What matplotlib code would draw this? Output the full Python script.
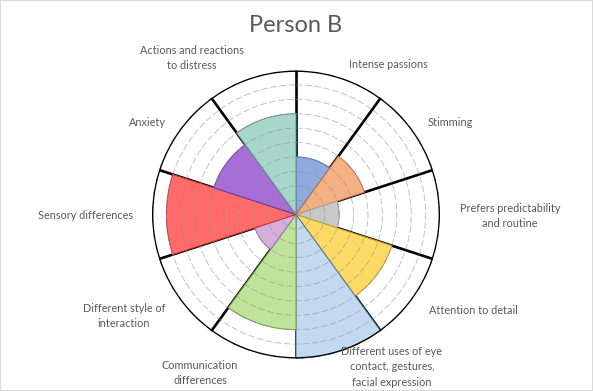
import numpy as np
import matplotlib
matplotlib.use("Agg")
import matplotlib.pyplot as plt

plt.rcParams['font.family'] = ['Lato', 'DejaVu Sans']

title = "Person B"
categories = ["Intense passions",
              "Stimming",
              "Prefers predictability\nand routine",
              "Attention to detail",
              "Different uses of eye\ncontact, gestures,\nfacial expression",
              "Communication\ndifferences",
              "Different style of\ninteraction",
              "Sensory differences",
              "Anxiety",
              "Actions and reactions\nto distress"]
scores = [4, 5, 3, 7, 10, 8, 3, 9, 6, 7]
max_score = 10

fills = ["#8FAADC", "#F4B183", "#C9C9C9", "#FFD966", "#C3D9EF",
         "#BEE39A", "#D6AEDC", "#FF6B6B", "#A66ED6", "#A9D6CA"]
edges = ["#4A6FB0", "#C0703A", "#A0A0A0", "#C09A20", "#4A6F95",
         "#6E9E40", "#A070A8", "#C03030", "#6A3AA0", "#5A9A8A"]

# label anchors in pixel coords (x from left, y from top)
label_px = [(388, 65), (450, 122), (510, 216), (473, 310), (392, 367),
            (200, 373), (124, 316), (86, 216), (147, 122), (192, 58)]

W, H = 593, 391
fig = plt.figure(figsize=(W / 100, H / 100), dpi=100)
ax = fig.add_axes([(296 - 145) / W, (H - 214.5 - 144) / H, 290 / W, 288 / H],
                  projection='polar')
ax.set_theta_zero_location('N')
ax.set_theta_direction(-1)

n = len(scores)
width = 2 * np.pi / n
theta = np.arange(n) * width + width / 2
ax.bar(theta, scores, width=width, color=fills, edgecolor=edges,
       linewidth=0.7, zorder=3)

# spokes between sectors
for b in np.arange(n) * width:
    ax.plot([b, b], [0, max_score], color='black', lw=1.9, zorder=2)

# dashed rings
ring_t = np.linspace(0, 2 * np.pi, 400)
for r in range(1, max_score):
    ax.plot(ring_t, np.full_like(ring_t, r), color='#8C8C8C', lw=0.6,
            ls=(0, (8, 3)), alpha=0.6, zorder=4)
ax.plot(ring_t, np.full_like(ring_t, max_score), color='black', lw=2.0, zorder=5)

ax.set_ylim(0, max_score)
ax.set_xticks([])
ax.set_yticks([])
ax.grid(False)
ax.spines['polar'].set_visible(False)

for text, (px, py) in zip(categories, label_px):
    fig.text(px / W, 1 - py / H, text, ha='center', va='center',
             fontsize=7.8, color='#595959', linespacing=1.45)

fig.text(296 / W, 1 - 25 / H, title, ha='center', va='center',
         fontsize=17, color='#595959')

fig.patches.append(plt.Rectangle((0, 0), 1, 1, transform=fig.transFigure,
                                 fill=False, edgecolor='#D9D9D9', lw=1.5))

fig.savefig("out.png", dpi=100)
